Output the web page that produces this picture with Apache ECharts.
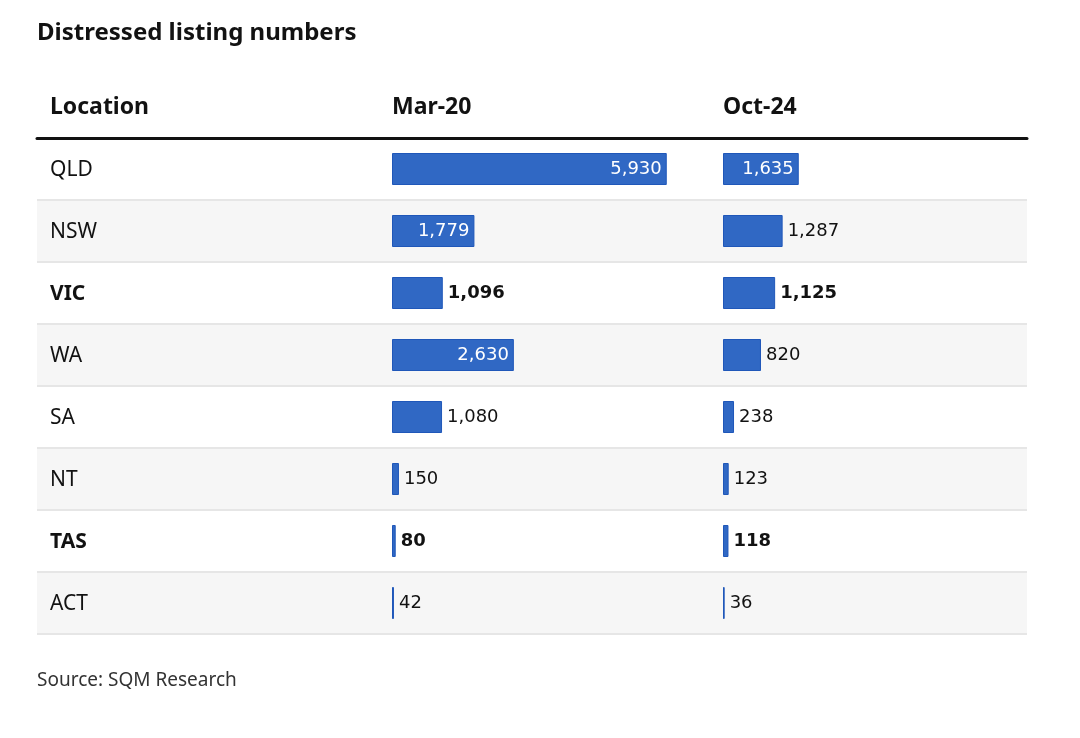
<!DOCTYPE html>
<html><head><meta charset="utf-8">
<script src="https://cdn.jsdelivr.net/npm/echarts@6/dist/echarts.min.js"></script>
<style>html,body{margin:0;padding:0;background:#fff}#c{width:1080px;height:738px}</style>
</head><body><div id="c"></div>
<script>
const chartTitle = 'Distressed listing numbers';
const sourceText = 'Source: SQM Research';
const columnHeaders = ['Location', 'Mar-20', 'Oct-24'];
const locations = ['QLD', 'NSW', 'VIC', 'WA', 'SA', 'NT', 'TAS', 'ACT'];
const mar20 = [5930, 1779, 1096, 2630, 1080, 150, 80, 42];
const oct24 = [1635, 1287, 1125, 820, 238, 123, 118, 36];
const boldRows = ['VIC', 'TAS'];
const insideLabelMin = 1500;

const FONT = 'Noto Sans';
const DARK = '#121212';
const BAR = '#3068c4';

function barData(values) {
  return values.map((v, i) => {
    const inside = v >= insideLabelMin;
    const bold = boldRows.includes(locations[i]);
    return {
      value: v,
      label: {
        position: inside ? 'insideRight' : 'right',
        color: inside ? '#ffffff' : DARK,
        fontWeight: bold ? 'bold' : 'normal'
      }
    };
  });
}

const chart = echarts.init(document.getElementById('c'), null, {renderer: 'canvas'});
const gridTop = 138, gridH = 496;
const option = {
  animation: false,
  backgroundColor: '#ffffff',
  title: [
    {text: chartTitle, left: 37, top: 21, padding: 0,
     textStyle: {fontFamily: FONT, fontSize: 24, fontWeight: 'bold', color: DARK}},
    {text: columnHeaders[0], left: 50, top: 96, padding: 0,
     textStyle: {fontFamily: FONT, fontSize: 23, fontWeight: 'bold', color: DARK}},
    {text: columnHeaders[1], left: 392, top: 96, padding: 0,
     textStyle: {fontFamily: FONT, fontSize: 23, fontWeight: 'bold', color: DARK}},
    {text: columnHeaders[2], left: 723, top: 96, padding: 0,
     textStyle: {fontFamily: FONT, fontSize: 23, fontWeight: 'bold', color: DARK}},
    {text: sourceText, left: 37, top: 671, padding: 0,
     textStyle: {fontFamily: FONT, fontSize: 19, fontWeight: 'normal', color: '#333333'}}
  ],
  grid: [
    {left: 37, top: gridTop, width: 990, height: gridH, containLabel: false},
    {left: 392, top: gridTop, width: 278, height: gridH, containLabel: false},
    {left: 723, top: gridTop, width: 278, height: gridH, containLabel: false}
  ],
  xAxis: [
    {gridIndex: 0, type: 'value', position: 'top', min: 0, max: 1,
     axisLine: {show: true, onZero: false, lineStyle: {color: DARK, width: 3}},
     axisTick: {show: false}, axisLabel: {show: false}, splitLine: {show: false}},
    {gridIndex: 1, type: 'value', min: 0, max: 6000, show: false},
    {gridIndex: 2, type: 'value', min: 0, max: 6000, show: false}
  ],
  yAxis: [
    {gridIndex: 0, type: 'category', data: locations, inverse: true,
     axisLine: {show: false}, axisTick: {show: false},
     splitLine: {show: true, lineStyle: {color: '#e6e6e6', width: 2}},
     splitArea: {show: true, areaStyle: {color: ['#ffffff', '#f6f6f6']}},
     axisLabel: {inside: true, margin: 13, fontFamily: FONT, fontSize: 21, color: DARK,
       padding: [3, 0, 0, 0],
       formatter: v => boldRows.includes(v) ? '{b|' + v + '}' : v,
       rich: {b: {fontFamily: FONT, fontSize: 21, fontWeight: 'bold', color: DARK}}}},
    {gridIndex: 1, type: 'category', data: locations, inverse: true, show: false},
    {gridIndex: 2, type: 'category', data: locations, inverse: true, show: false}
  ],
  series: [
    {type: 'scatter', xAxisIndex: 0, yAxisIndex: 0, data: [], silent: true},
    {name: columnHeaders[1], type: 'bar', xAxisIndex: 1, yAxisIndex: 1, barWidth: 32,
     data: barData(mar20), silent: true,
     itemStyle: {color: BAR, borderColor: '#1f57b9', borderWidth: 1},
     label: {show: true, distance: 5, fontFamily: 'DejaVu Sans', fontSize: 18,
       formatter: p => echarts.format.addCommas(p.value)}},
    {name: columnHeaders[2], type: 'bar', xAxisIndex: 2, yAxisIndex: 2, barWidth: 32,
     data: barData(oct24), silent: true,
     itemStyle: {color: BAR, borderColor: '#1f57b9', borderWidth: 1},
     label: {show: true, distance: 5, fontFamily: 'DejaVu Sans', fontSize: 18,
       formatter: p => echarts.format.addCommas(p.value)}}
  ]
};
chart.setOption(option);
</script>
</body></html>
